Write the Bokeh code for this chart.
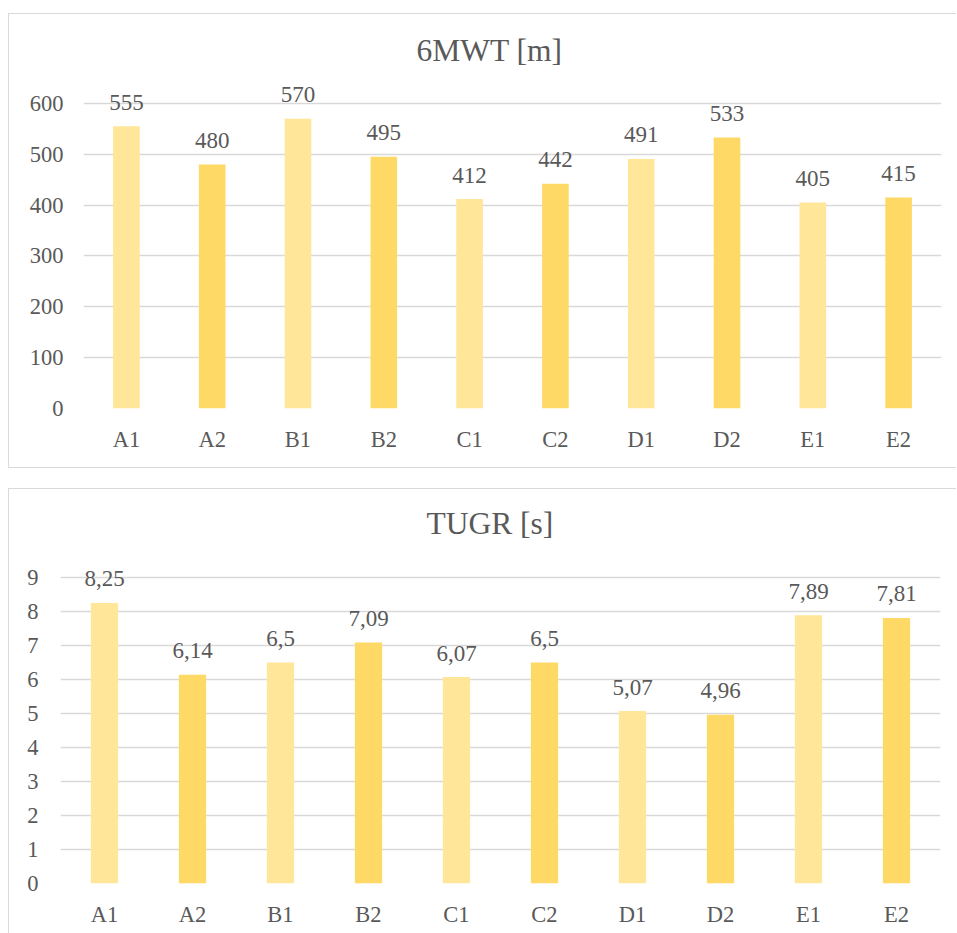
from bokeh.plotting import figure
from bokeh.models import ColumnDataSource, FactorRange, Range1d, FixedTicker, LabelSet
from bokeh.embed import file_html
from bokeh.resources import INLINE

categories = ["A1", "A2", "B1", "B2", "C1", "C2", "D1", "D2", "E1", "E2"]
mwt_values = [555, 480, 570, 495, 412, 442, 491, 533, 405, 415]
mwt_ticks = [0, 100, 200, 300, 400, 500, 600]
tugr_values = [8.25, 6.14, 6.5, 7.09, 6.07, 6.5, 5.07, 4.96, 7.89, 7.81]
tugr_labels = ["8,25", "6,14", "6,5", "7,09", "6,07", "6,5", "5,07", "4,96", "7,89", "7,81"]
tugr_ticks = [0, 1, 2, 3, 4, 5, 6, 7, 8, 9]
bar_colors = ["#FFE699", "#FFD966"] * 5

FONT = "Liberation Serif"
TXT = "#595959"
GRID = "#D9D9D9"


def make_chart(title, values, labels, ticks, ymax, height, borders, margin,
               mb_top, mb_bottom, mb_left, mb_right, title_offset, title_standoff,
               xstandoff, ystandoff):
    src = ColumnDataSource(dict(cat=categories, val=values, lab=labels, col=bar_colors))
    p = figure(x_range=FactorRange(*categories, range_padding=0),
               y_range=Range1d(0, ymax),
               width=948, height=height, output_backend="svg",
               toolbar_location=None, title=title,
               min_border_top=mb_top, min_border_bottom=mb_bottom,
               min_border_left=mb_left, min_border_right=mb_right,
               margin=margin)
    p.vbar(x="cat", top="val", width=0.31, fill_color="col", line_color=None, source=src)
    p.add_layout(LabelSet(x="cat", y="val", text="lab", source=src,
                          text_align="center", text_baseline="alphabetic",
                          y_offset=16.5, text_font=FONT, text_font_size="23px",
                          text_color=TXT))
    p.title.text_font = FONT
    p.title.text_font_size = "31.5px"
    p.title.text_font_style = "normal"
    p.title.text_color = TXT
    p.title.align = "left"
    p.title.offset = title_offset
    p.title.standoff = title_standoff

    p.outline_line_color = None
    p.xgrid.grid_line_color = None
    p.ygrid.grid_line_color = GRID
    p.ygrid.grid_line_width = 1.3
    p.yaxis.ticker = FixedTicker(ticks=ticks)
    for ax in (p.xaxis[0], p.yaxis[0]):
        ax.axis_line_color = None
        ax.major_tick_line_color = None
        ax.minor_tick_line_color = None
        ax.major_tick_out = 0
        ax.major_tick_in = 0
        ax.major_label_text_font = FONT
        ax.major_label_text_font_size = "22.5px"
        ax.major_label_text_color = TXT
    p.xaxis.major_label_standoff = xstandoff
    p.yaxis.major_label_standoff = ystandoff
    st = {"box-sizing": "border-box"}
    for side in borders:
        st["border-" + side] = "1.5px solid #D9D9D9"
    p.styles = st
    return p


top = make_chart("6MWT [m]", mwt_values, [str(v) for v in mwt_values], mwt_ticks, 657,
                 455, ["left", "top", "bottom"], (13, 0, 0, 8),
                 60, 61, 74, 16, 333, 13, 18, 20)
bottom = make_chart("TUGR [s]", tugr_values, tugr_labels, tugr_ticks, 9.88,
                    445, ["left", "top"], (20, 0, 0, 8),
                    58, 51, 51, 17, 366, 14, 18, 22)

open("out.html", "w").write(file_html([top, bottom], INLINE))
